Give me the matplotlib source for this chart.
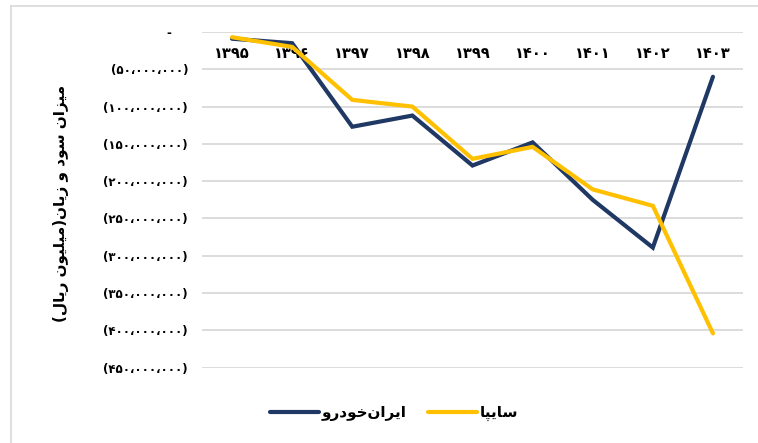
import matplotlib
matplotlib.use("Agg")
import matplotlib.pyplot as plt
from matplotlib.lines import Line2D

# ---- data (millions of rials) ----
years = ["۱۳۹۵", "۱۳۹۶", "۱۳۹۷", "۱۳۹۸", "۱۳۹۹", "۱۴۰۰", "۱۴۰۱", "۱۴۰۲", "۱۴۰۳"]
iran_khodro = [-9e6, -15e6, -127e6, -112e6, -179e6, -148e6, -225e6, -289e6, -60e6]
saipa = [-7e6, -20e6, -91e6, -100e6, -170e6, -154e6, -211e6, -233e6, -404e6]
ytick_vals = [0, -50e6, -100e6, -150e6, -200e6, -250e6, -300e6, -350e6, -400e6, -450e6]
ytick_labels = ["-    ", "(۵۰،۰۰۰،۰۰۰)", "(۱۰۰،۰۰۰،۰۰۰)", "(۱۵۰،۰۰۰،۰۰۰)", "(۲۰۰،۰۰۰،۰۰۰)",
                "(۲۵۰،۰۰۰،۰۰۰)", "(۳۰۰،۰۰۰،۰۰۰)", "(۳۵۰،۰۰۰،۰۰۰)", "(۴۰۰،۰۰۰،۰۰۰)",
                "(۴۵۰،۰۰۰،۰۰۰)"]
# Persian labels written in shaped visual order
series_names = ["ﻭﺭﺩﻮﺧﻥﺍﺮﻳﺍ", "ﺎﭙﻳﺎﺳ"]  # ایران‌خودرو , سایپا
ylabel_text = "(ﻝﺎﻳﺭ ﻥﻮﻴﻠﻴﻣ)ﻥﺎﻳﺯ ﻭ ﺩﻮﺳ ﻥﺍﺰﻴﻣ"  # میزان سود و زیان(میلیون ریال)

NAVY = "#203864"
GOLD = "#FFC000"

fig = plt.figure(figsize=(7.58, 4.43), dpi=100)
fig.patch.set_facecolor("white")
ax = fig.add_axes([202/758, 1-367.7/443, 541/758, (367.7-32)/443])

x = list(range(len(years)))
ax.plot(x, iran_khodro, color=NAVY, lw=3.0, solid_capstyle="round", solid_joinstyle="miter", zorder=3)
ax.plot(x, saipa, color=GOLD, lw=3.0, solid_capstyle="round", solid_joinstyle="miter", zorder=4)

ax.set_xlim(-0.5, len(years) - 0.5)
ax.set_ylim(-450e6, 0)
ax.set_yticks(ytick_vals)
ax.set_yticklabels(ytick_labels, family="DejaVu Sans", fontsize=8.5, fontweight="bold")
ax.set_xticks(x)
ax.set_xticklabels(years, family="DejaVu Sans", fontsize=10.5, fontweight="bold")
ax.tick_params(axis="x", top=True, labeltop=True, bottom=False, labelbottom=False,
               length=0, pad=-21)
ax.tick_params(axis="y", length=0, pad=10)
ax.grid(axis="y", color="#D9D9D9", lw=1.3)
ax.set_axisbelow(True)
for s in ax.spines.values():
    s.set_visible(False)

fig.text(61/758, 1-203/443, ylabel_text, rotation=90, ha="center", va="center",
         family="DejaVu Sans", fontsize=11, fontweight="bold")

# chart border (left/top)
fig.add_artist(Line2D([11/758, 11/758], [0, 1-6/443], color="#D9D9D9", lw=1.2, transform=fig.transFigure))
fig.add_artist(Line2D([11/758, 1], [1-6/443, 1-6/443], color="#D9D9D9", lw=1.2, transform=fig.transFigure))

handles = [Line2D([], [], color=NAVY, lw=3, solid_capstyle="round"),
           Line2D([], [], color=GOLD, lw=3, solid_capstyle="round")]
fig.legend(handles, series_names, loc="center", bbox_to_anchor=(394/758, 1-413/443),
           ncol=2, frameon=False, prop={"family": "DejaVu Sans", "size": 11, "weight": "bold"},
           handlelength=3.2, handletextpad=0.2, columnspacing=1.4)

fig.savefig("out.png", dpi=100, facecolor="white")
